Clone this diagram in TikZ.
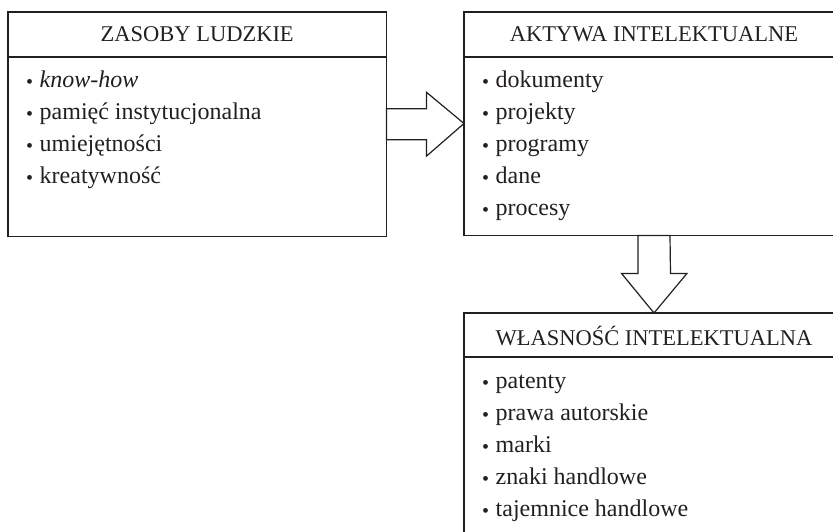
\documentclass[tikz,border=0pt]{standalone}
\usepackage{fontspec}
\setmainfont{Liberation Serif}
\usetikzlibrary{calc}

\definecolor{ink}{HTML}{231F20}

\tikzset{
  panel/.style={inner sep=0pt},
  rule/.style={draw=ink, line width=1.2pt, line join=miter},
  headtext/.style={font=\fontsize{22.5}{26}\selectfont, text=ink, inner sep=0pt, anchor=base},
  itemtext/.style={font=\fontsize{24}{28}\selectfont, text=ink, inner sep=0pt, anchor=base west},
  bigarrow/.style={draw=ink, line width=1.2pt, fill=white, line join=miter},
}

% round bullet followed by a fixed gap
\newcommand\itembul{\makebox[13.5pt][l]{\raisebox{-1pt}{\fontsize{20}{20}\selectfont\textbullet}}}

\begin{document}
\begin{tikzpicture}[x=1pt, y=-1pt]
  \useasboundingbox (0,0) rectangle (833,532);

  % three panels (the right-hand ones run past the right edge)
  \node[panel, minimum width=378pt, minimum height=224pt, anchor=north west] (zl) at (8,12) {};
  \node[panel, minimum width=420pt, minimum height=223pt, anchor=north west] (ai) at (464,12) {};
  \node[panel, minimum width=420pt, minimum height=226pt, anchor=north west] (wi) at (464,313) {};

  \draw[rule] (zl.north west) rectangle (zl.south east);
  \draw[rule] (ai.north east) -- (ai.north west) -- (ai.south west) -- (ai.south east);
  \draw[rule] (wi.north east) -- (wi.north west) -- (wi.south west) -- (wi.south east);

  % header rules
  \draw[rule] ($(zl.north west)+(0,45)$) -- ($(zl.north east)+(0,45)$);
  \draw[rule] ($(ai.north west)+(0,45)$) -- ($(ai.north east)+(0,45)$);
  \draw[rule] ($(wi.north west)+(0,44)$) -- ($(wi.north east)+(0,44)$);

  % headers
  \node[headtext] (zl-h) at ($(zl.north)+(0,29.7)$) {ZASOBY LUDZKIE};
  \node[headtext] (ai-h) at ($(ai.north west)+(190,29.7)$) {AKTYWA INTELEKTUALNE};
  \node[headtext] (wi-h) at ($(wi.north west)+(190,32)$) {WŁASNOŚĆ INTELEKTUALNA};

  % item lists
  \foreach \t [count=\i] in {{\textit{know-how}}, pamięć instytucjonalna, umiejętności, kreatywność}
    \node[itemtext] (zl-\i) at ($(zl.north west)+(18,76+31.8*\i-31.8)$) {\itembul\t};
  \foreach \t [count=\i] in {dokumenty, projekty, programy, dane, procesy}
    \node[itemtext] (ai-\i) at ($(ai.north west)+(18,75.5+31.9*\i-31.9)$) {\itembul\t};
  \foreach \t [count=\i] in {patenty, prawa autorskie, marki, znaki handlowe, tajemnice handlowe}
    \node[itemtext] (wi-\i) at ($(wi.north west)+(18,75+32.2*\i-32.2)$) {\itembul\t};

  % hollow block arrows between panels
  \draw[bigarrow] ($(zl.east)+(0,-15.5)$) -- ++(40,0) -- ++(0,-16.5) -- ($(ai.north west)+(0,111.5)$)
    -- ($(zl.east)+(40,32)$) -- ++(0,-16.5) -- ($(zl.east)+(0,15.5)$) -- cycle;
  \coordinate (ai-foot) at ($(ai.south west)+(190,0)$);
  \coordinate (wi-top) at ($(wi.north west)+(190,0)$);
  \draw[bigarrow] ($(ai-foot)+(-16,0)$) -- ++(0,38) -- ++(-16.5,0) -- (wi-top)
    -- ($(ai-foot)+(33,38)$) -- ++(-16.5,0) -- ($(ai-foot)+(16,0)$) -- cycle;
\end{tikzpicture}
\end{document}
